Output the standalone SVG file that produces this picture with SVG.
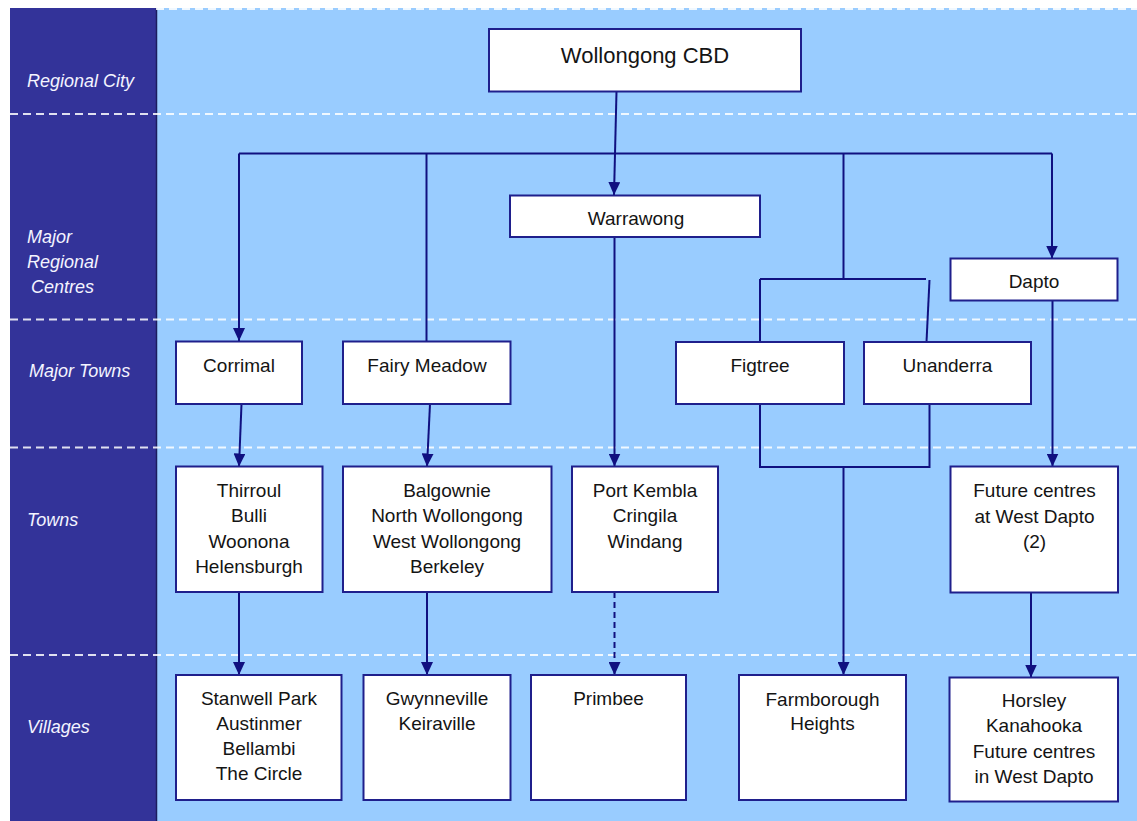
<svg xmlns="http://www.w3.org/2000/svg" width="1137" height="821" viewBox="0 0 1137 821">
<style>
.box{fill:#ffffff;stroke:#1f1f8c;stroke-width:2}
.t{font-family:"Liberation Sans",Arial,sans-serif;font-size:19px;fill:#141414;text-anchor:middle;dominant-baseline:central}
.side{font-family:"Liberation Sans",Arial,sans-serif;font-size:18px;font-style:italic;fill:#f4f4ff;dominant-baseline:central}
.sep{stroke:#ffffff;stroke-opacity:0.85;stroke-width:2;stroke-dasharray:8 5;fill:none}
.c{stroke:#101080;stroke-width:2;fill:none}
.a{marker-end:url(#arr)}
.d{stroke-dasharray:6 4}
</style>
<defs>
<marker id="arr" viewBox="0 0 13 12" refX="13" refY="6" markerWidth="13" markerHeight="12" markerUnits="userSpaceOnUse" orient="auto">
<path d="M0,0 L13,6 L0,12 z" fill="#101080"/>
</marker>
</defs>
<rect x="0" y="0" width="1137" height="821" fill="#ffffff"/>
<g id="background">
<rect x="10" y="8" width="146" height="813" fill="#333399"/>
<rect x="156" y="8" width="981" height="813" fill="#99ccff"/>
<line x1="156.5" y1="8" x2="156.5" y2="821" stroke="#1c1c5e" stroke-width="1.5"/>
<line class="sep" x1="156" y1="9" x2="1137" y2="9"/>
<line class="sep" x1="10" y1="114" x2="1137" y2="114"/>
<line class="sep" x1="10" y1="319.5" x2="1137" y2="319.5"/>
<line class="sep" x1="10" y1="447.5" x2="1137" y2="447.5"/>
<line class="sep" x1="10" y1="655" x2="1137" y2="655"/>
</g>
<g id="tiers">
<text class="side" x="27" y="80.5">Regional City</text>
<text class="side" x="27" y="236.5">Major</text>
<text class="side" x="27" y="261.5">Regional</text>
<text class="side" x="31" y="287">Centres</text>
<text class="side" x="29" y="370.5">Major Towns</text>
<text class="side" x="27" y="520">Towns</text>
<text class="side" x="27" y="727">Villages</text>
</g>
<g id="connectors">
<path class="c a" d="M616.5,91.5 L614,195"/>
<path class="c" d="M239,153.5 H1052"/>
<path class="c a" d="M239,153.5 V341"/>
<path class="c" d="M426.5,153.5 V341.5"/>
<path class="c" d="M843.5,153.5 V279"/>
<path class="c" d="M760,279 H926"/>
<path class="c" d="M760,279 V342"/>
<path class="c" d="M929.5,280 L926.5,342"/>
<path class="c a" d="M1052,153.5 V258.5"/>
<path class="c a" d="M614.5,237 V466.5"/>
<path class="c a" d="M1052.5,301 V466.5"/>
<path class="c a" d="M241.5,404 L239,466.5"/>
<path class="c a" d="M430,404 L427,466.5"/>
<path class="c" d="M760,404 V467 H929.5 V404"/>
<path class="c a" d="M843.5,467 V675"/>
<path class="c a" d="M239,592 V675"/>
<path class="c a" d="M427,592 V675"/>
<path class="c a d" d="M614.5,592 V675"/>
<path class="c a" d="M1031,592.5 V677.5"/>
</g>
<g id="wollongong-cbd">
<rect class="box" x="489" y="29" width="312" height="62.5"/>
<text class="t" x="645" y="55" style="font-size:22px">Wollongong CBD</text>
</g>
<g id="warrawong">
<rect class="box" x="510" y="195.5" width="250" height="41.5"/>
<text class="t" x="636" y="218">Warrawong</text>
</g>
<g id="dapto">
<rect class="box" x="950.5" y="258.5" width="167" height="42"/>
<text class="t" x="1034" y="281">Dapto</text>
</g>
<g id="corrimal">
<rect class="box" x="176" y="341.5" width="126" height="62.5"/>
<text class="t" x="239" y="365">Corrimal</text>
</g>
<g id="fairy-meadow">
<rect class="box" x="343" y="341.5" width="167.5" height="62.5"/>
<text class="t" x="427" y="365">Fairy Meadow</text>
</g>
<g id="figtree">
<rect class="box" x="676" y="342" width="168" height="62"/>
<text class="t" x="760" y="365">Figtree</text>
</g>
<g id="unanderra">
<rect class="box" x="864" y="342" width="167" height="62"/>
<text class="t" x="947.5" y="365">Unanderra</text>
</g>
<g id="thirroul">
<rect class="box" x="176" y="466.5" width="146.5" height="125.5"/>
<text class="t" x="249" y="490">Thirroul</text>
<text class="t" x="249" y="515.5">Bulli</text>
<text class="t" x="249" y="541">Woonona</text>
<text class="t" x="249" y="566.5">Helensburgh</text>
</g>
<g id="balgownie">
<rect class="box" x="343" y="466.5" width="208.5" height="125.5"/>
<text class="t" x="447" y="490">Balgownie</text>
<text class="t" x="447" y="515.5">North Wollongong</text>
<text class="t" x="447" y="541">West Wollongong</text>
<text class="t" x="447" y="566.5">Berkeley</text>
</g>
<g id="port-kembla">
<rect class="box" x="572" y="466.5" width="146" height="125.5"/>
<text class="t" x="645" y="490">Port Kembla</text>
<text class="t" x="645" y="515.5">Cringila</text>
<text class="t" x="645" y="541">Windang</text>
</g>
<g id="future-centres">
<rect class="box" x="950.5" y="466.5" width="167.5" height="126"/>
<text class="t" x="1034.5" y="490.5">Future centres</text>
<text class="t" x="1034.5" y="516">at West Dapto</text>
<text class="t" x="1034.5" y="541.5">(2)</text>
</g>
<g id="stanwell-park">
<rect class="box" x="176" y="675" width="165.5" height="125"/>
<text class="t" x="259" y="698">Stanwell Park</text>
<text class="t" x="259" y="723">Austinmer</text>
<text class="t" x="259" y="748">Bellambi</text>
<text class="t" x="259" y="773">The Circle</text>
</g>
<g id="gwynneville">
<rect class="box" x="363.5" y="675" width="147" height="125"/>
<text class="t" x="437" y="698">Gwynneville</text>
<text class="t" x="437" y="723">Keiraville</text>
</g>
<g id="primbee">
<rect class="box" x="531" y="675" width="155" height="125"/>
<text class="t" x="608.5" y="698">Primbee</text>
</g>
<g id="farmborough-heights">
<rect class="box" x="739" y="675" width="167" height="125"/>
<text class="t" x="822.5" y="699">Farmborough</text>
<text class="t" x="822.5" y="723.5">Heights</text>
</g>
<g id="horsley">
<rect class="box" x="949.5" y="677.5" width="168.5" height="124"/>
<text class="t" x="1034" y="700">Horsley</text>
<text class="t" x="1034" y="725">Kanahooka</text>
<text class="t" x="1034" y="751">Future centres</text>
<text class="t" x="1034" y="776">in West Dapto</text>
</g>
</svg>
